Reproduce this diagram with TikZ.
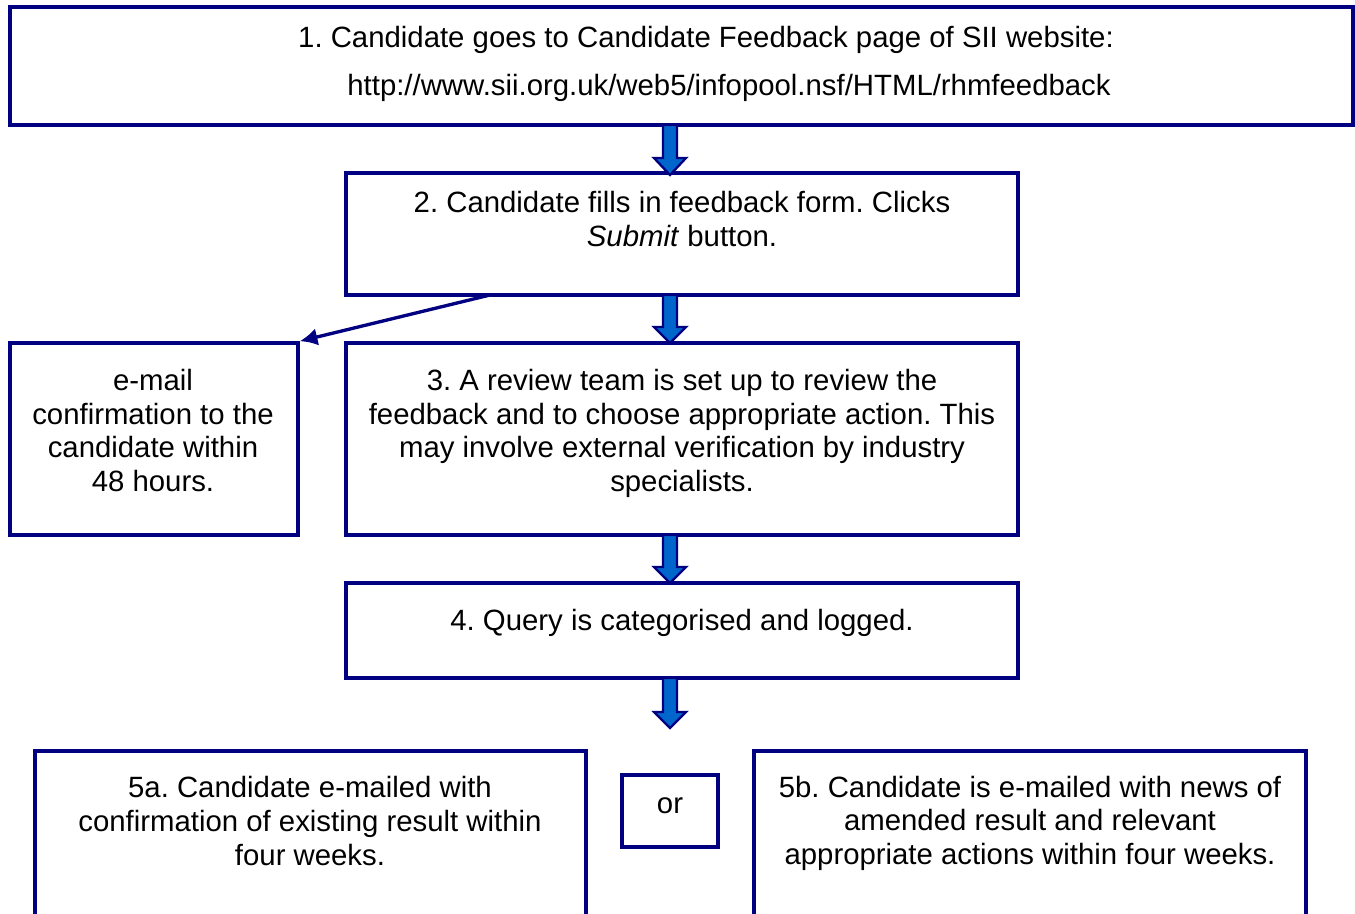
\documentclass[tikz,border=0pt]{standalone}
\usepackage{fontspec}
\setmainfont{Liberation Sans}
\usetikzlibrary{fit,arrows.meta}
\definecolor{navy}{HTML}{000080}
\definecolor{arrowblue}{HTML}{0066CC}
\frenchspacing
\tikzset{
  box/.style={draw=navy, line width=2.1pt, fill=white, inner sep=0pt},
  txt/.style={font=\fontsize{16.7}{19.1}\selectfont, align=center, inner sep=0pt},
  link/.style={draw=navy, line width=1.9pt, -{Latex[length=10pt,width=10pt]}},
  blockarrow/.style={draw=navy, fill=arrowblue, line width=1.3pt, line join=miter},
}
% vertical block arrow: #1 = x centre, #2 = top, #3 = start of head, #4 = tip
\newcommand{\blockdown}[4]{%
  \draw[blockarrow] (#1-7,#2) -- (#1+7,#2) -- (#1+7,#3) -- (#1+16,#3)
    -- (#1,#4) -- (#1-16,#3) -- (#1-7,#3) -- cycle;}
\begin{document}
\begin{tikzpicture}[x=0.02cm,y=-0.02cm]
\clip (0,0) rectangle (1355,913);
\fill[white] (0,0) rectangle (1355,913);

% step boxes
\node[box, fit={(10,7) (1353,125)}] (b1) {};
\node[box, fit={(346,173) (1018,295)}] (b2) {};
\node[box, fit={(10,343) (298,535)}] (mail) {};
\node[box, fit={(346,343) (1018,535)}] (b3) {};
\node[box, fit={(346,583) (1018,678)}] (b4) {};
\node[box, fit={(35,751) (586,960)}] (b5a) {};
\node[box, fit={(622,775) (718,847)}] (or) {};
\node[box, fit={(754,751) (1306,960)}] (b5b) {};

% texts
\node[txt] (t1a) at (706,40) {1. Candidate goes to Candidate Feedback page of SII website:};
\node[txt] (t1b) at (729,88) {http://www.sii.org.uk/web5/infopool.nsf/HTML/rhmfeedback};
\node[txt] (t2) at (682,219) {2. Candidate fills in feedback form. Clicks\\\textit{Submit} button.};
\node[txt] (tm) at (153,430.5) {e-mail\\confirmation to the\\candidate within\\48 hours.};
\node[txt] (t3) at (682,433.5) {3. A review team is set up to review the\\feedback and to choose appropriate action. This\\may involve external verification by industry\\specialists.};
\node[txt] (t4) at (682,623) {4. Query is categorised and logged.};
\node[txt] (t5a) at (310,821) {5a. Candidate e-mailed with\\confirmation of existing result within\\four weeks.};
\node[txt] (tor) at (670,806) {or};
\node[txt] (t5b) at (1030,823) {5b. Candidate is e-mailed with news of\\amended result and relevant\\appropriate actions within four weeks.};

% connectors
\blockdown{670}{125}{158}{175}
\blockdown{670}{295}{327}{343}
\blockdown{670}{535}{567}{583}
\blockdown{670}{678}{712}{728}
\coordinate (from2) at (490,295);
\draw[link] (from2) -- (mail.north east);
\end{tikzpicture}
\end{document}
